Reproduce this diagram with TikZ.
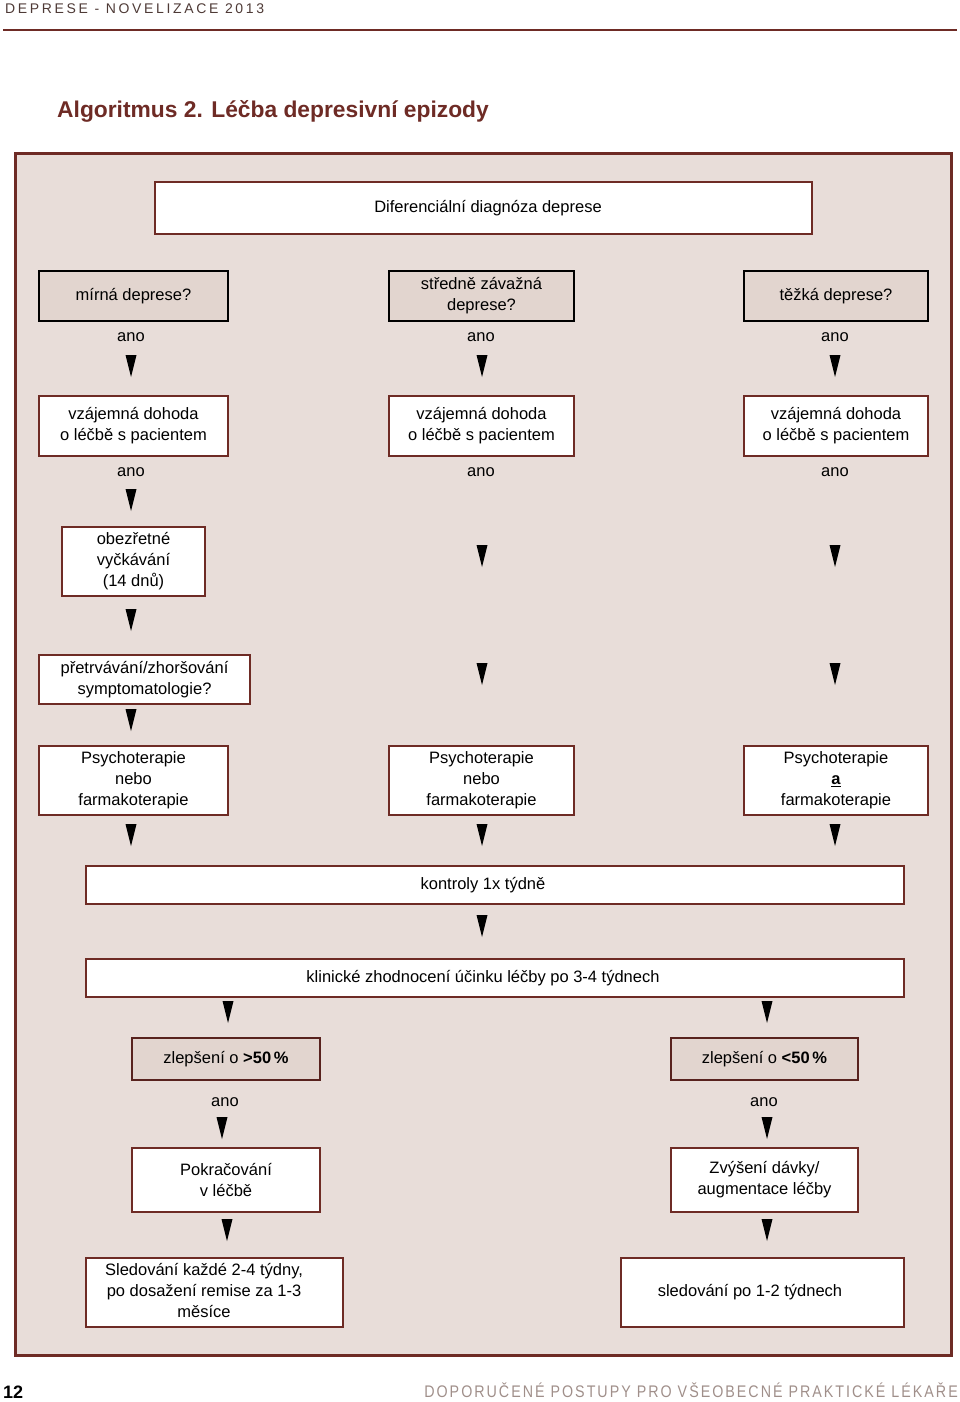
\documentclass[tikz,border=0pt]{standalone}
\usepackage{fontspec}
\setmainfont{Liberation Sans}
\newfontfamily\headfont[LetterSpace=19]{Liberation Sans}
\newfontfamily\footfont[LetterSpace=14]{Liberation Sans}

\definecolor{darkred}{HTML}{6E2B25}
\definecolor{panelbg}{HTML}{E8DDD9}
\definecolor{graybox}{HTML}{E2D5CF}
\definecolor{footgray}{HTML}{A08F8A}
\definecolor{headgray}{HTML}{4E3A36}

\newcommand{\tri}[2]{\fill (#1-5.5,#2) -- (#1+5.5,#2) -- (#1,#2+22) -- cycle;}

\tikzset{
	txt/.style={align=center, font=\fontsize{16.5}{21}\selectfont, inner sep=0pt},
	whitebox/.style={txt, draw=darkred, line width=1.5pt, fill=white},
	qbox/.style={txt, draw=black, line width=2pt, fill=graybox},
	pbox/.style={txt, draw=darkred!80!black, line width=1.5pt, fill=graybox}
}

\begin{document}
\begin{tikzpicture}[x=1pt, y=-1pt]
		\useasboundingbox (0,0) rectangle (960,1402);

		\node[anchor=base west, font=\fontsize{14}{14}\headfont, text=headgray, inner sep=0pt] (head) at (5,14) {DEPRESE - NOVELIZACE 2013};
		\draw[darkred, line width=2pt] (3,30) -- (957,30);
		\node[anchor=west, font=\fontsize{22.8}{22.8}\selectfont\bfseries, text=darkred, inner sep=0pt] (title) at (57,111) {Algoritmus 2. Léčba depresivní epizody};

		\draw[darkred, line width=3pt, fill=panelbg] (15,153) rectangle (951,1355);

		\node[whitebox, minimum width=657pt, minimum height=52pt] (diag) at (483.5,208) {\hspace*{9pt}Diferenciální diagnóza deprese};

		\node[qbox, minimum width=189pt, minimum height=50pt] (mirna) at (133.5,296) {mírná deprese?};
		\node[qbox, minimum width=185pt, minimum height=50pt] (stredni) at (481.5,296) {středně závažná\\deprese?};
		\node[qbox, minimum width=184pt, minimum height=50pt] (tezka) at (836,296) {těžká deprese?};

		\node[txt] (anoA) at (131,337) {ano};
		\node[txt] (anoB) at (481,337) {ano};
		\node[txt] (anoC) at (835,337) {ano};
		\tri{131}{355}
		\tri{482}{355}
		\tri{835}{355}

		\node[whitebox, minimum width=189pt, minimum height=60pt] (dohodaA) at (133.5,426) {vzájemná dohoda\\o léčbě s pacientem};
		\node[whitebox, minimum width=185pt, minimum height=60pt] (dohodaB) at (481.5,426) {vzájemná dohoda\\o léčbě s pacientem};
		\node[whitebox, minimum width=184pt, minimum height=60pt] (dohodaC) at (836,426) {vzájemná dohoda\\o léčbě s pacientem};

		\node[txt] (anoD) at (131,472) {ano};
		\node[txt] (anoE) at (481,472) {ano};
		\node[txt] (anoF) at (835,472) {ano};
		\tri{131}{489}

		\node[whitebox, minimum width=143pt, minimum height=69pt] (obez) at (133.5,561.5) {obezřetné\\vyčkávání\\(14 dnů)};
		\tri{482}{545}
		\tri{835}{545}
		\tri{131}{609}

		\node[whitebox, minimum width=211pt, minimum height=49pt] (pretrv) at (144.5,679.5) {přetrvávání/zhoršování\\symptomatologie?};
		\tri{482}{663}
		\tri{835}{663}
		\tri{131}{709}

		\node[whitebox, minimum width=189pt, minimum height=69pt] (psychA) at (133.5,780.5) {Psychoterapie\\nebo\\farmakoterapie};
		\node[whitebox, minimum width=185pt, minimum height=69pt] (psychB) at (481.5,780.5) {Psychoterapie\\nebo\\farmakoterapie};
		\node[whitebox, minimum width=184pt, minimum height=69pt] (psychC) at (836,780.5) {Psychoterapie\\\underline{\textbf{a}}\\farmakoterapie};
		\tri{131}{824}
		\tri{482}{824}
		\tri{835}{824}

		\node[whitebox, minimum width=818pt, minimum height=38pt] (kontroly) at (495,885) {kontroly 1x týdně\hspace*{24pt}};
		\tri{482}{915}

		\node[whitebox, minimum width=818pt, minimum height=38pt] (klin) at (495,978) {klinické zhodnocení účinku léčby po 3-4 týdnech\hspace*{24pt}};
		\tri{228}{1001}
		\tri{767}{1001}

		\node[pbox, minimum width=188pt, minimum height=42pt] (zlepA) at (226,1059) {zlepšení o \textbf{>50\,\%}};
		\node[pbox, minimum width=187pt, minimum height=42pt] (zlepB) at (764.5,1059) {zlepšení o \textbf{<50\,\%}};

		\node[txt] (anoG) at (225,1102) {ano};
		\node[txt] (anoH) at (764,1102) {ano};
		\tri{222}{1117}
		\tri{767}{1117}

		\node[whitebox, minimum width=188pt, minimum height=64pt] (pokr) at (226,1180) {Pokračování\\v léčbě};
		\node[whitebox, minimum width=187pt, minimum height=64pt] (zvys) at (764.5,1180) {Zvýšení dávky/\\augmentace léčby};
		\tri{227}{1219}
		\tri{767}{1219}

		\node[whitebox, minimum width=257pt, minimum height=69pt] (sledA) at (214.5,1292.5) {\begin{tabular}{@{}c@{}}Sledování každé 2-4 týdny,\\po dosažení remise za 1-3\\měsíce\end{tabular}\hspace*{21pt}};
		\node[whitebox, minimum width=283pt, minimum height=69pt] (sledB) at (762.5,1292.5) {sledování po 1-2 týdnech\hspace*{25pt}};

		\node[anchor=base west, font=\fontsize{18}{18}\selectfont\bfseries, inner sep=0pt] (page) at (3,1398) {12};
		\node[anchor=base east, font=\fontsize{16.8}{16.8}\footfont, text=footgray, inner sep=0pt, xscale=0.85] (foot) at (958,1397) {DOPORUČENÉ POSTUPY PRO VŠEOBECNÉ PRAKTICKÉ LÉKAŘE};
	\end{tikzpicture}
\end{document}
